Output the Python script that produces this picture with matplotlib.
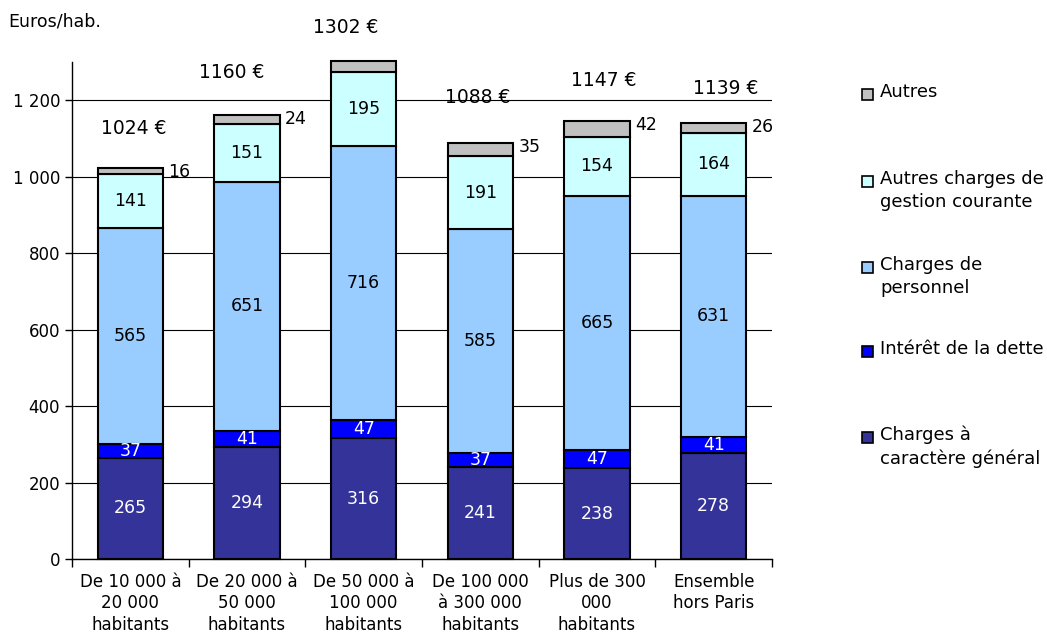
import numpy as np
import matplotlib.pyplot as plt
from matplotlib.patches import Rectangle
from matplotlib.ticker import FuncFormatter

plt.rcParams['font.family'] = 'DejaVu Sans'
plt.rcParams['font.size'] = 12

# data
categories = ['De 10 000 à\n20 000\nhabitants', 'De 20 000 à\n50 000\nhabitants',
              'De 50 000 à\n100 000\nhabitants', 'De 100 000\nà 300 000\nhabitants',
              'Plus de 300\n000\nhabitants', 'Ensemble\nhors Paris']
charges_generales = [265, 294, 316, 241, 238, 278]
interet_dette = [37, 41, 47, 37, 47, 41]
charges_personnel = [565, 651, 716, 585, 665, 631]
autres_gestion = [141, 151, 195, 191, 154, 164]
autres = [16, 24, 28, 35, 42, 26]
totals = [1024, 1160, 1302, 1088, 1147, 1139]

series_names = ['Charges à\ncaractère général', 'Intérêt de la dette',
                'Charges de\npersonnel', 'Autres charges de\ngestion courante', 'Autres']
colors = ['#333399', '#0000ff', '#99ccff', '#ccffff', '#c0c0c0']
text_colors = ['white', 'white', 'black', 'black', None]

# where the total labels sit (layout, as in the original)
total_label_y = [1127, 1273, 1391, 1208, 1252, 1231]
total_label_dx = [0.03, -0.13, -0.15, -0.02, 0.06, 0.10]

fig = plt.figure(figsize=(10.47, 6.43), dpi=100)
ax = fig.add_axes([0.0688, 0.1306, 0.6685, 0.773])

x = np.arange(len(categories))
width = 0.56
series = [charges_generales, interet_dette, charges_personnel, autres_gestion, autres]
bottom = np.zeros(len(categories))
for vals, col, tc in zip(series, colors, text_colors):
    vals = np.array(vals)
    bars = ax.bar(x, vals, width, bottom=bottom, color=col, edgecolor='black',
                  linewidth=1.5, zorder=3)
    for b in bars:
        b.set_clip_on(False)
    if tc is not None:
        for xi, b, v in zip(x, bottom, vals):
            ax.text(xi, b + v / 2, str(v), ha='center', va='center', color=tc,
                    fontsize=12.5, zorder=4)
    bottom += vals

# small "Autres" values to the right of each bar
for xi, top, v in zip(x, bottom, autres):
    ax.annotate(str(v), (xi + width / 2, top), xytext=(4, -3), textcoords='offset points',
                ha='left', va='center', fontsize=12.5)

for xi, t, ly, dx in zip(x, totals, total_label_y, total_label_dx):
    ax.text(xi + dx, ly, f'{t} €', ha='center', va='center', fontsize=13.5, clip_on=False)

ax.set_xlim(-0.5, len(categories) - 0.5)
ax.set_ylim(0, 1300)
ax.set_yticks(range(0, 1201, 200))
ax.yaxis.set_major_formatter(FuncFormatter(lambda v, p: f'{int(v):,}'.replace(',', ' ')))
ax.yaxis.grid(True, color='black', linewidth=0.8, zorder=0)
ax.set_axisbelow(True)

ax.set_xticks(x)
ax.set_xticklabels(categories, linespacing=1.25)
ax.tick_params(axis='x', length=0, pad=10)
ax.set_xticks(np.arange(-0.5, len(categories)), minor=True)
ax.tick_params(axis='x', which='minor', length=6, width=1)
ax.tick_params(axis='y', length=5, width=1)
for s in ['top', 'right']:
    ax.spines[s].set_visible(False)
ax.spines['left'].set_linewidth(1)
ax.spines['bottom'].set_linewidth(1)

fig.text(8 / 1047, 1 - 22 / 643, 'Euros/hab.', ha='left', va='center', fontsize=12.5)

# legend drawn by hand, top entry first
legend_y = [95, 182, 268, 352, 438]
for name, col, ly in zip(series_names[::-1], colors[::-1], legend_y):
    fig.patches.append(Rectangle((862 / 1047, 1 - (ly + 5) / 643), 11 / 1047, 11 / 643,
                                 transform=fig.transFigure, facecolor=col,
                                 edgecolor='black', linewidth=1.2))
    fig.text(880 / 1047, 1 - (ly - 12) / 643, name, ha='left', va='top',
             fontsize=13, linespacing=1.35)

fig.savefig('out.png', dpi=100)
